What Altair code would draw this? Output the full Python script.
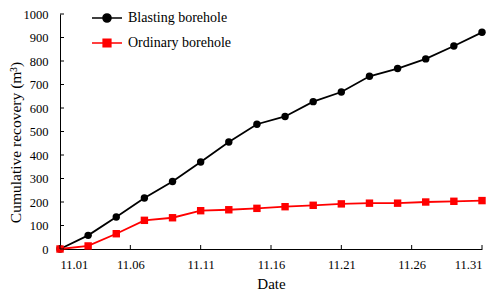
import altair as alt
import pandas as pd

# ---- data ----
days = [1, 3, 5, 7, 9, 11, 13, 15, 17, 19, 21, 23, 25, 27, 29, 31]
blasting = [0, 58, 136, 217, 287, 370, 455, 531, 564, 627, 668, 735, 768, 809, 864, 922]
ordinary = [0, 13, 65, 122, 133, 163, 167, 173, 180, 186, 192, 195, 195, 200, 203, 206]
series_names = ["Blasting borehole", "Ordinary borehole"]
series_colors = ["#000000", "#FF0000"]
x_ticks = [1, 6, 11, 16, 21, 26, 31]
y_ticks = [0, 100, 200, 300, 400, 500, 600, 700, 800, 900, 1000]

df = pd.DataFrame({
    "day": days * 2,
    "value": blasting + ordinary,
    "series": [series_names[0]] * len(days) + [series_names[1]] * len(days),
})
xt = pd.DataFrame({"day": x_ticks})
yt = pd.DataFrame({"value": y_ticks})

W, H = 422, 235
FONT = "Liberation Serif"

circle_line = "M-3.75,0H3.75M-1,0A1,1 0 1,0 1,0A1,1 0 1,0 -1,0Z"
square_line = "M-3.75,0H3.75M-0.95,-0.95H0.95V0.95H-0.95Z"
is_ord = "datum.value === 'Ordinary borehole'"

legend = alt.Legend(
    title=None, orient="none", legendX=40, legendY=-3, padding=0,
    labelFont=FONT, labelFontSize=14, labelColor="black",
    symbolSize=64, symbolStrokeWidth=1.6, labelOffset=14, rowPadding=10,
    symbolOpacity=1,
    symbolType={"expr": f"{is_ord} ? '{square_line}' : '{circle_line}'"},
    symbolFillColor={"expr": f"{is_ord} ? '#FF0000' : '#000000'"},
    symbolStrokeColor={"expr": f"{is_ord} ? '#FF0000' : '#000000'"},
)

xaxis = alt.Axis(values=x_ticks, title="Date",
                 labelExpr="'11.' + (datum.value < 10 ? '0' : '') + datum.value",
                 labelFont=FONT, labelFontSize=12.5, labelOverlap=False,
                 labelPadding=9, titleY=34, titleBaseline="middle", titleFont=FONT)
yaxis = alt.Axis(values=y_ticks, title="Cumulative recovery (m³)", format="d",
                 labelFont=FONT, labelFontSize=12.5, labelOverlap=False,
                 labelPadding=12, titleX=-45, titleY=128,
                 titleBaseline="middle", titleAlign="center",
                 titleFont=FONT, titleFontSize=15.5)
xenc = alt.X("day:Q", scale=alt.Scale(domain=[1, 31], nice=False, zero=False), axis=xaxis)
yenc = alt.Y("value:Q", scale=alt.Scale(domain=[0, 1000], nice=False), axis=yaxis)
color = alt.Color("series:N", scale=alt.Scale(domain=series_names, range=series_colors),
                  legend=legend)

lines = alt.Chart(df).mark_line(strokeWidth=1.8).encode(x=xenc, y=yenc, color=color)
pts_b = alt.Chart(df).transform_filter(alt.datum.series == series_names[0]).mark_point(
    shape="circle", filled=True, opacity=1, size=55).encode(x=xenc, y=yenc, color=color)
pts_o = alt.Chart(df).transform_filter(alt.datum.series == series_names[1]).mark_point(
    shape="square", filled=True, opacity=1, size=55).encode(x=xenc, y=yenc, color=color)
xtick_layer = alt.Chart(xt).mark_rule(color="black", strokeWidth=1).encode(
    x=xenc, y=alt.value(H), y2=alt.value(H - 4))
ytick_layer = alt.Chart(yt).mark_rule(color="black", strokeWidth=1).encode(
    y=yenc, x=alt.value(0), x2=alt.value(4))

chart = alt.layer(lines, pts_b, pts_o, xtick_layer, ytick_layer).properties(
    width=W, height=H,
    autosize=alt.AutoSizeParams(type="none"),
    padding={"left": 52, "top": 6, "right": 8, "bottom": 44},
).configure_view(stroke=None).configure_axis(
    grid=False, ticks=False, tickSize=0, domainColor="black", domainWidth=1,
    labelColor="black", labelFont=FONT, labelFontSize=12.5,
    titleColor="black", titleFont=FONT, titleFontSize=15, titleFontWeight="normal",
)

chart.save("out.html", embed_options={"renderer": "svg", "actions": False})
